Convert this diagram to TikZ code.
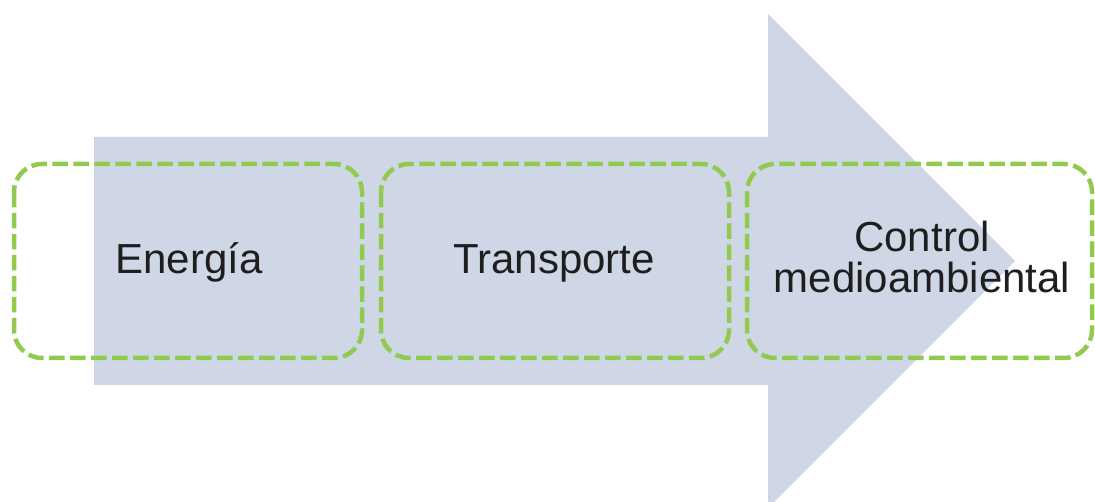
\documentclass[tikz,border=0pt]{standalone}
\usepackage{fontspec}
\setmainfont{Liberation Sans}
\definecolor{arrowfill}{HTML}{CFD7E6}
\definecolor{stagegreen}{HTML}{92C94F}
\definecolor{labelink}{HTML}{1E1E1E}
\begin{document}
\begin{tikzpicture}[x=1pt,y=-1pt,
  stagebox/.style={draw=stagegreen,line width=4.5pt,dash pattern=on 15.5pt off 5.5pt,rounded corners=28pt},
  stagelabel/.style={text=labelink,font=\fontsize{42}{41}\selectfont,inner sep=0pt,align=center}]
  \useasboundingbox (0,0) rectangle (1095,502);
  % big process arrow behind the stages
  \begin{scope}
    \clip (0,0) rectangle (1095,502);
    \fill[arrowfill] (94,137) -- (768,137) -- (768,14) -- (1015,261)
      -- (768,508) -- (768,385) -- (94,385) -- cycle;
  \end{scope}
  % stage frames
  \draw[stagebox] (14,164) rectangle (362,358);
  \draw[stagebox] (381,164) rectangle (729,358);
  \draw[stagebox] (747,164) rectangle (1092,358);
  % stage labels
  \node[stagelabel,anchor=base] (energia) at (189,274) {Energía};
  \node[stagelabel,anchor=base] (transporte) at (554,274) {Transporte};
  \node[stagelabel,anchor=base] (control) at (922,293) {Control\\medioambiental};
\end{tikzpicture}
\end{document}
